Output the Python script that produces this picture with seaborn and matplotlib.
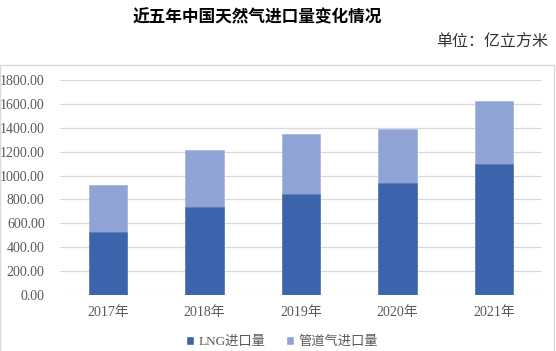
import pandas as pd
import matplotlib
matplotlib.use("Agg")
import matplotlib.pyplot as plt
import seaborn as sns
from matplotlib.patches import Patch, Rectangle

# === Data (亿立方米)
years = ['2017年', '2018年', '2019年', '2020年', '2021年']
lng = [526, 735, 847, 939, 1094]
pipeline = [394, 477, 503, 449, 531]
series_names = ['LNG进口量', '管道气进口量']
yticks = [0, 200, 400, 600, 800, 1000, 1200, 1400, 1600, 1800]

dark = '#3c64ad'
light = '#8fa4d4'
grid_col = '#d9d9d9'
txt_col = '#595959'

sns.set_theme(style='white')
serif_cjk = ['Liberation Serif', 'Noto Sans CJK SC', 'DejaVu Sans']
plt.rcParams['font.family'] = serif_cjk

df = pd.DataFrame({'year': years, 'lng': lng, 'pipeline': pipeline})
df['total'] = df['lng'] + df['pipeline']

fig = plt.figure(figsize=(5.56, 3.51), dpi=100)
ax = fig.add_axes([60 / 556, 1 - 295 / 351, 482 / 556, 215 / 351])

# stacked bars: total first (light), LNG on top of it (dark)
sns.barplot(data=df, x='year', y='total', color=light, width=0.4,
            saturation=1, edgecolor='#a8b9de', linewidth=0.6, ax=ax)
sns.barplot(data=df, x='year', y='lng', color=dark, width=0.4,
            saturation=1, edgecolor='#5b7fc0', linewidth=0.6, ax=ax)

ax.set_ylim(0, 1800)
ax.set_xlim(-0.5, len(years) - 0.5)
ax.set_yticks(yticks)
ax.set_yticklabels([f'{v:.2f}' for v in yticks])
ax.yaxis.grid(True, color=grid_col, linewidth=0.9)
ax.set_axisbelow(True)
for s in ax.spines.values():
    s.set_visible(False)
ax.set_xlabel('')
ax.set_ylabel('')
ax.tick_params(axis='both', length=0, labelsize=10, colors=txt_col)
ax.tick_params(axis='y', pad=11)
ax.tick_params(axis='x', pad=8)
for lab in ax.get_xticklabels() + ax.get_yticklabels():
    lab.set_family(serif_cjk)

# chart area border
fig.patches.append(Rectangle((0, -0.05), 554 / 556, 1.05 - 65 / 351,
                             transform=fig.transFigure, fill=False,
                             edgecolor=grid_col, linewidth=1.0))

fig.text(257 / 556, 1 - 17 / 351, '近五年中国天然气进口量变化情况',
         ha='center', va='center', fontsize=12, fontweight='heavy',
         family=['Noto Sans CJK SC', 'DejaVu Sans'], color='black')
fig.text(548 / 556, 1 - 42 / 351, '单位：亿立方米', ha='right', va='center',
         fontsize=11.5, fontweight='light', family=['Noto Sans CJK SC', 'DejaVu Sans'],
         color='#333333')

handles = [Patch(facecolor=dark, label=series_names[0]),
           Patch(facecolor=light, label=series_names[1])]
fig.legend(handles=handles, loc='center', bbox_to_anchor=(282 / 556, 1 - 342 / 351),
           ncol=2, frameon=False, handlelength=0.6, handleheight=0.6,
           handletextpad=0.3, columnspacing=1.6, labelcolor=txt_col,
           prop={'family': serif_cjk, 'size': 9.5})

fig.savefig('out.png', dpi=100)
